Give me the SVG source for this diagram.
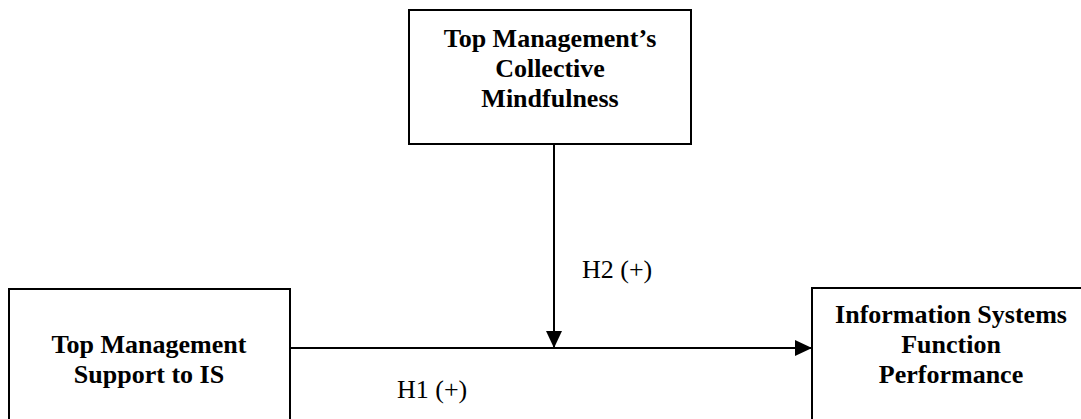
<svg xmlns="http://www.w3.org/2000/svg" width="1081" height="419" viewBox="0 0 1081 419">
<style>
.box{fill:#fff;stroke:#000;stroke-width:2}
.bt{font-family:"Liberation Serif","Times New Roman",serif;font-weight:bold;font-size:26px;fill:#000;text-anchor:middle}
.lbl{font-family:"Liberation Serif","Times New Roman",serif;font-size:26px;fill:#000}
.edge{stroke:#000;stroke-width:2;fill:none}
</style>
<defs>
<marker id="arr" markerUnits="userSpaceOnUse" markerWidth="18" markerHeight="16" refX="17" refY="8" orient="auto">
<path d="M0,0 L17,8 L0,16 Z" fill="#000"/>
</marker>
</defs>
<rect width="1081" height="419" fill="#fff"/>
<g id="node-mindfulness">
<rect class="box" x="409" y="10" width="282" height="134"/>
<text class="bt" x="550" y="47">Top Management’s</text>
<text class="bt" x="550" y="77">Collective</text>
<text class="bt" x="550" y="107">Mindfulness</text>
</g>
<g id="node-support">
<rect class="box" x="9" y="289" width="281" height="140"/>
<text class="bt" x="149" y="353">Top Management</text>
<text class="bt" x="149" y="383">Support to IS</text>
</g>
<g id="node-performance">
<rect class="box" x="812" y="288" width="280" height="140"/>
<text class="bt" x="951" y="323">Information Systems</text>
<text class="bt" x="951" y="353">Function</text>
<text class="bt" x="951" y="383">Performance</text>
</g>
<g id="connectors">
<line class="edge" x1="290" y1="348" x2="812" y2="348" marker-end="url(#arr)"/>
<line class="edge" x1="554" y1="144" x2="554" y2="348" marker-end="url(#arr)"/>
<text class="lbl" x="397" y="398">H1 (+)</text>
<text class="lbl" x="582" y="278">H2 (+)</text>
</g>
</svg>
